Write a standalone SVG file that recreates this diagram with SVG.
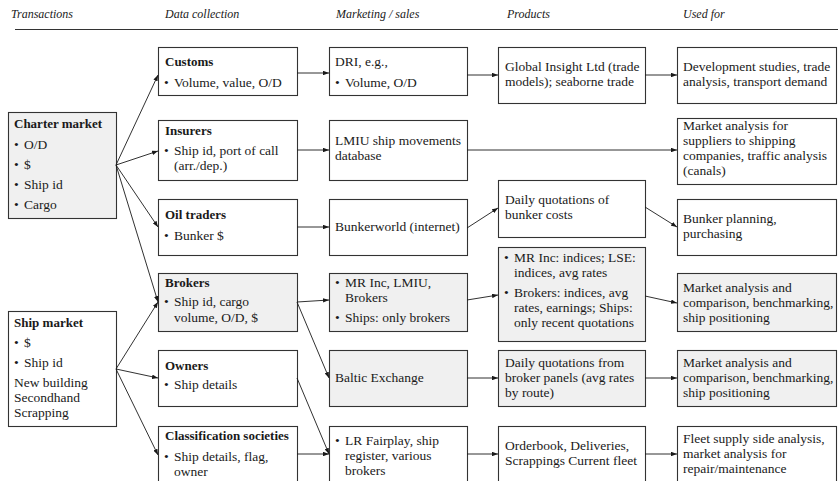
<svg xmlns="http://www.w3.org/2000/svg" width="838" height="481" viewBox="0 0 838 481">
<style>
text{font-family:"Liberation Serif","Times New Roman",serif;font-size:13.5px;fill:#1a1a1a}
.h{font-style:italic;font-size:12px}
.b{font-weight:bold;font-size:13px}
.box{fill:#fff;stroke:#333;stroke-width:1.1}
.g{fill:#f0f0f0}
.c line{stroke:#1a1a1a;stroke-width:0.9;marker-end:url(#ah)}
</style>
<defs>
<marker id="ah" viewBox="0 0 8 6" refX="8" refY="3" markerWidth="6" markerHeight="4.5" orient="auto" markerUnits="userSpaceOnUse">
<path d="M0,0 L8,3 L0,6 Z" fill="#1a1a1a"/>
</marker>
</defs>
<rect width="838" height="481" fill="#fff"/>
<g id="header">
<text class="h" x="11" y="18">Transactions</text>
<text class="h" x="165" y="18">Data collection</text>
<text class="h" x="336" y="18">Marketing / sales</text>
<text class="h" x="507" y="18">Products</text>
<text class="h" x="683" y="18">Used for</text>
<line x1="15" y1="29.5" x2="838" y2="29.5" stroke="#333" stroke-width="1"/>
</g>

<g id="charter">
<rect class="box g" x="8.5" y="112.5" width="108" height="106"/>
<text class="b" x="14" y="128">Charter market</text>
<text x="14" y="149">•<tspan x="24">O/D</tspan></text>
<text x="14" y="169">•<tspan x="24">$</tspan></text>
<text x="14" y="189">•<tspan x="24">Ship id</tspan></text>
<text x="14" y="209">•<tspan x="24">Cargo</tspan></text>
</g>
<g id="ship">
<rect class="box" x="8.5" y="311.5" width="108" height="115"/>
<text class="b" x="14" y="327">Ship market</text>
<text x="14" y="347">•<tspan x="24">$</tspan></text>
<text x="14" y="367">•<tspan x="24">Ship id</tspan></text>
<text x="14" y="387">New building</text>
<text x="14" y="402">Secondhand</text>
<text x="14" y="417">Scrapping</text>
</g>

<g id="customs">
<rect class="box" x="158.5" y="47.5" width="139" height="48"/>
<text class="b" x="165" y="66">Customs</text>
<text x="164" y="87">•<tspan x="174">Volume, value, O/D</tspan></text>
</g>
<g id="insurers">
<rect class="box" x="158.5" y="120.5" width="139" height="60"/>
<text class="b" x="165" y="135">Insurers</text>
<text x="164" y="155">•<tspan x="174">Ship id, port of call</tspan></text>
<text x="174" y="170">(arr./dep.)</text>
</g>
<g id="oil">
<rect class="box" x="158.5" y="199.5" width="139" height="56"/>
<text class="b" x="165" y="219">Oil traders</text>
<text x="164" y="240">•<tspan x="174">Bunker $</tspan></text>
</g>
<g id="brokers">
<rect class="box g" x="158.5" y="273.5" width="139" height="58"/>
<text class="b" x="165" y="287">Brokers</text>
<text x="164" y="306">•<tspan x="174">Ship id, cargo</tspan></text>
<text x="174" y="322">volume, O/D, $</text>
</g>
<g id="owners">
<rect class="box" x="158.5" y="350.5" width="139" height="56"/>
<text class="b" x="165" y="370">Owners</text>
<text x="164" y="389">•<tspan x="174">Ship details</tspan></text>
</g>
<g id="class">
<rect class="box" x="158.5" y="426.5" width="139" height="60"/>
<text class="b" x="165" y="440">Classification societies</text>
<text x="164" y="461">•<tspan x="174">Ship details, flag,</tspan></text>
<text x="174" y="476">owner</text>
</g>

<g id="dri">
<rect class="box" x="329.5" y="47.5" width="138" height="48"/>
<text x="335" y="66">DRI, e.g.,</text>
<text x="335" y="87">•<tspan x="345">Volume, O/D</tspan></text>
</g>
<g id="lmiu">
<rect class="box" x="329.5" y="120.5" width="138" height="60"/>
<text x="335" y="145">LMIU ship movements</text>
<text x="335" y="160">database</text>
</g>
<g id="bunkerworld">
<rect class="box" x="329.5" y="199.5" width="138" height="56"/>
<text x="335" y="231">Bunkerworld (internet)</text>
</g>
<g id="mrinc">
<rect class="box g" x="329.5" y="273.5" width="138" height="58"/>
<text x="335" y="287">•<tspan x="345">MR Inc, LMIU,</tspan></text>
<text x="345" y="302">Brokers</text>
<text x="335" y="322">•<tspan x="345">Ships: only brokers</tspan></text>
</g>
<g id="baltic">
<rect class="box g" x="329.5" y="350.5" width="138" height="56"/>
<text x="335" y="382">Baltic Exchange</text>
</g>
<g id="lrf">
<rect class="box" x="329.5" y="426.5" width="138" height="60"/>
<text x="335" y="445">•<tspan x="345">LR Fairplay, ship</tspan></text>
<text x="345" y="460">register, various</text>
<text x="345" y="475">brokers</text>
</g>

<g id="global">
<rect class="box" x="498.5" y="47.5" width="147" height="56"/>
<text x="505" y="71">Global Insight Ltd (trade</text>
<text x="505" y="86">models); seaborne trade</text>
</g>
<g id="dailybunker">
<rect class="box" x="498.5" y="180.5" width="147" height="57"/>
<text x="505" y="204">Daily quotations of</text>
<text x="505" y="219">bunker costs</text>
</g>
<g id="indices">
<rect class="box g" x="498.5" y="247.5" width="147" height="94"/>
<text x="504" y="262">•<tspan x="514">MR Inc: indices; LSE:</tspan></text>
<text x="514" y="277">indices, avg rates</text>
<text x="504" y="297">•<tspan x="514">Brokers: indices, avg</tspan></text>
<text x="514" y="312">rates, earnings; Ships:</text>
<text x="514" y="327">only recent quotations</text>
</g>
<g id="dailybroker">
<rect class="box g" x="498.5" y="350.5" width="147" height="56"/>
<text x="505" y="367">Daily quotations from</text>
<text x="505" y="382">broker panels (avg rates</text>
<text x="505" y="397">by route)</text>
</g>
<g id="orderbook">
<rect class="box" x="498.5" y="426.5" width="147" height="60"/>
<text x="505" y="450">Orderbook, Deliveries,</text>
<text x="505" y="465">Scrappings Current fleet</text>
</g>

<g id="development">
<rect class="box" x="677.5" y="47.5" width="159" height="56"/>
<text x="683" y="71">Development studies, trade</text>
<text x="683" y="86">analysis, transport demand</text>
</g>
<g id="suppliers">
<rect class="box" x="677.5" y="118.5" width="159" height="66"/>
<text x="683" y="130">Market analysis for</text>
<text x="683" y="145">suppliers to shipping</text>
<text x="683" y="160">companies, traffic analysis</text>
<text x="683" y="175">(canals)</text>
</g>
<g id="bunkerplan">
<rect class="box" x="677.5" y="199.5" width="159" height="56"/>
<text x="683" y="223">Bunker planning,</text>
<text x="683" y="238">purchasing</text>
</g>
<g id="market1">
<rect class="box g" x="677.5" y="273.5" width="159" height="58"/>
<text x="683" y="292">Market analysis and</text>
<text x="683" y="307">comparison, benchmarking,</text>
<text x="683" y="322">ship positioning</text>
</g>
<g id="market2">
<rect class="box g" x="677.5" y="350.5" width="159" height="56"/>
<text x="683" y="367">Market analysis and</text>
<text x="683" y="382">comparison, benchmarking,</text>
<text x="683" y="397">ship positioning</text>
</g>
<g id="fleet">
<rect class="box" x="677.5" y="426.5" width="159" height="60"/>
<text x="683" y="443">Fleet supply side analysis,</text>
<text x="683" y="458">market analysis for</text>
<text x="683" y="473">repair/maintenance</text>
</g>

<g id="connectors" class="c">
<line x1="116" y1="165" x2="158" y2="75"/>
<line x1="116" y1="165" x2="158" y2="151"/>
<line x1="116" y1="165" x2="158" y2="227"/>
<line x1="116" y1="165" x2="158" y2="302"/>
<line x1="116" y1="369" x2="158" y2="302"/>
<line x1="116" y1="369" x2="158" y2="378"/>
<line x1="116" y1="369" x2="158" y2="455"/>
<line x1="297" y1="73" x2="329" y2="73"/>
<line x1="467" y1="75" x2="498" y2="75"/>
<line x1="645" y1="75" x2="677" y2="75"/>
<line x1="297" y1="150" x2="329" y2="150"/>
<line x1="467" y1="150" x2="677" y2="150"/>
<line x1="297" y1="227" x2="329" y2="227"/>
<line x1="467" y1="228" x2="498" y2="208"/>
<line x1="645" y1="207" x2="677" y2="227"/>
<line x1="297" y1="302" x2="329" y2="300"/>
<line x1="297" y1="302" x2="329" y2="378"/>
<line x1="297" y1="378" x2="329" y2="454"/>
<line x1="297" y1="454" x2="329" y2="454"/>
<line x1="467" y1="300" x2="498" y2="295"/>
<line x1="645" y1="296" x2="677" y2="303"/>
<line x1="467" y1="378" x2="498" y2="378"/>
<line x1="645" y1="378" x2="677" y2="378"/>
<line x1="467" y1="454" x2="498" y2="454"/>
<line x1="645" y1="454" x2="677" y2="454"/>
</g>
</svg>
